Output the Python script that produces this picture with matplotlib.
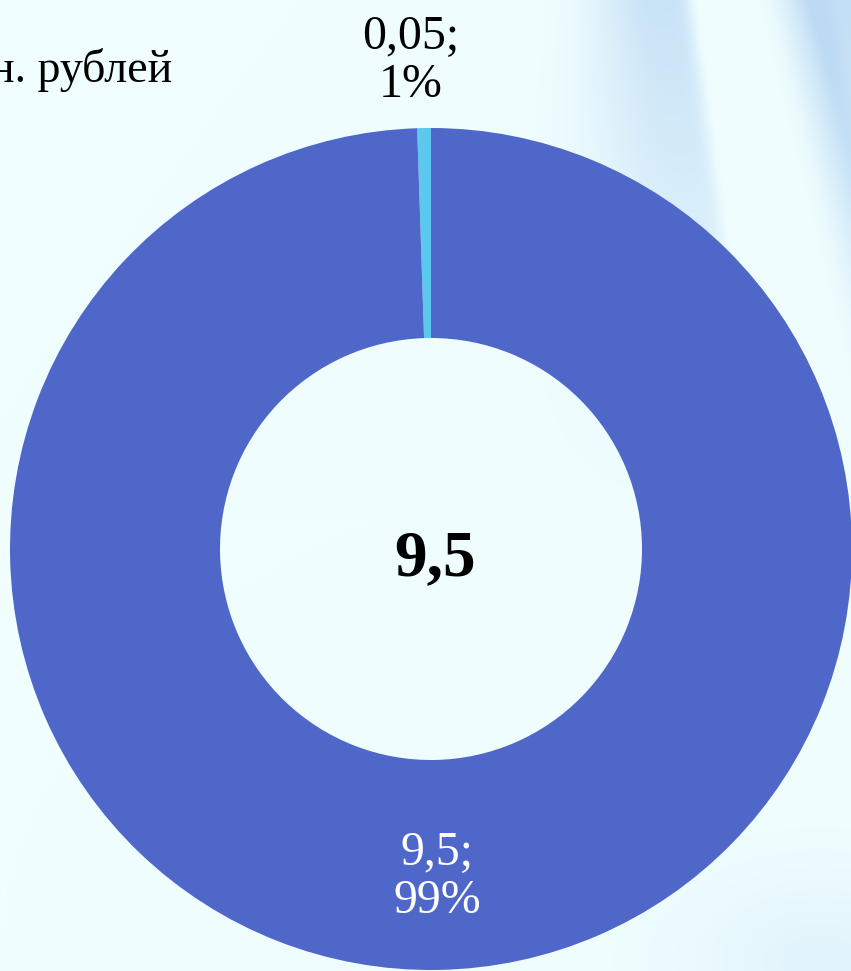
import numpy as np
import matplotlib.pyplot as plt

# values (млн. рублей)
labels_val = ['0,05', '9,5']
values = [0.05, 9.5]
percents = ['1%', '99%']
colors = ['#5bc8f0', '#4f67c8']
label_colors = ['black', 'white']
total_text = '9,5'
unit_text = 'млн. рублей'

W, H = 851, 971
plt.rcParams['font.family'] = ['Liberation Serif', 'DejaVu Serif']

fig = plt.figure(figsize=(W / 100, H / 100), dpi=100)
ax = fig.add_axes([0, 0, 1, 1])

# light background with soft blue streaks on the right
yy, xx = np.mgrid[0:H, 0:W].astype(float)
base = np.array([240, 254, 255]) / 255.0
blue = np.array([188, 218, 244]) / 255.0
fade = np.clip(1 - yy / 520, 0, 1)
t = np.zeros((H, W))
# left band, soft on its left side, sharper towards the white streak
ca = 655 + 0.14 * yy
left = np.exp(-((xx - ca) / (60 + 0.15 * yy)) ** 2)
right = np.exp(-((xx - ca) / 35.0) ** 6)
t += 0.75 * np.where(xx < ca, left, right) * fade
# right band beyond the white streak
cb = 840 + 0.23 * yy
t += 0.85 * np.exp(-((xx - cb) / 60.0) ** 4) * np.clip(1 - yy / 650, 0, 1)
t += 0.25 * np.exp(-((xx - (815 + 0.23 * yy)) / 14.0) ** 2) * fade
# faint haze bottom right
t += 0.25 * np.exp(-((xx - 820) / 140.0) ** 2 - ((yy - 960) / 90.0) ** 2)
t = np.clip(t, 0, 1)
img = base[None, None, :] * (1 - t[..., None]) + blue[None, None, :] * t[..., None]
ax.imshow(img, extent=[0, W, 0, H], origin='upper', zorder=0, aspect='auto')

cx, cy, R = 431, H - 549, 421
wedges, _ = ax.pie(values, colors=colors, startangle=90, counterclock=True,
                   center=(cx, cy), radius=R, frame=True,
                   wedgeprops=dict(width=210, linewidth=0, zorder=2))
ax.set_xlim(0, W)
ax.set_ylim(0, H)
ax.set_aspect('equal')
ax.axis('off')

dists = [1.16, 0.78]
dx = [-12, 1]
for w, lv, pc, col, d, off in zip(wedges, labels_val, percents, label_colors, dists, dx):
    ang = np.deg2rad((w.theta1 + w.theta2) / 2)
    x = cx + d * R * np.cos(ang) + off
    y = cy + d * R * np.sin(ang)
    ax.text(x, y, f'{lv};\n{pc}', ha='center', va='center', color=col,
            fontsize=34.5, linespacing=1.12, zorder=3)

ax.text(cx + 4, cy - 10, total_text, ha='center', va='center', fontsize=47,
        fontweight='bold', color='black', zorder=3)
ax.text(172, H - 70, unit_text, ha='right', va='center', fontsize=33,
        color='black', zorder=3)

fig.savefig('out.png', dpi=100)
